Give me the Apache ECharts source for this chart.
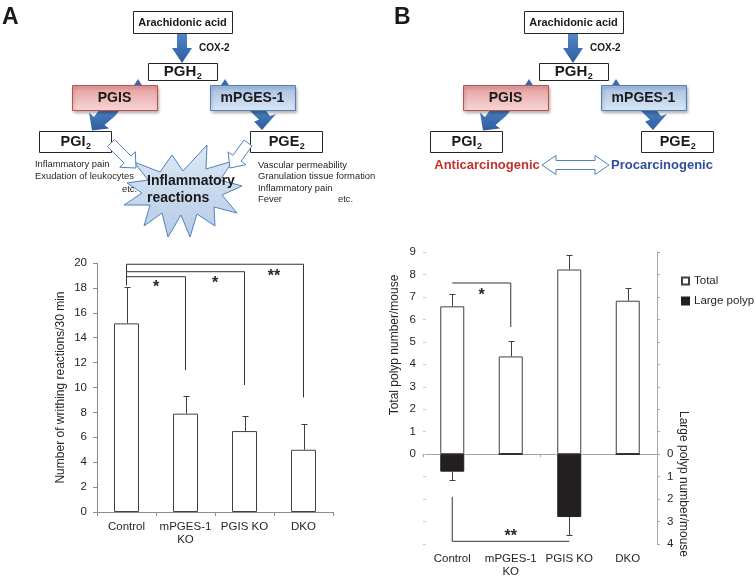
<!DOCTYPE html>
<html><head><meta charset="utf-8">
<script src="https://cdn.jsdelivr.net/npm/echarts@6/dist/echarts.min.js"></script>
<style>html,body{margin:0;padding:0;background:#fff}#c{width:756px;height:580px}</style>
</head><body><div id="c"></div>
<script>
// ---------- data ----------
const categories = ['Control', 'mPGES-1\nKO', 'PGIS KO', 'DKO'];
// Panel A: writhing reactions
const writhingMean = [15.15, 7.9, 6.5, 5.0];
const writhingErr = [2.95, 1.4, 1.25, 2.05];
const yTicksA = [0, 2, 4, 6, 8, 10, 12, 14, 16, 18, 20];
// Panel B: polyps
const totalPolyp = [6.58, 4.35, 8.22, 6.83];
const totalPolypErr = [0.54, 0.67, 0.66, 0.58];
const largePolyp = [0.78, 0, 2.8, 0];
const largePolypErr = [0.35, 0, 0.8, 0];
const yTicksBLeft = [0, 1, 2, 3, 4, 5, 6, 7, 8, 9];
const yTicksBRight = [0, 1, 2, 3, 4];
const legendNames = ['Total', 'Large polyp'];
// significance brackets [category index, value]
const bracketsA = [
  [[0, 18.2], [0, 19.9], [3, 19.9], [3, 9.2]],
  [[0, 19.3], [2, 19.3], [2, 10.2]],
  [[0, 18.9], [1, 18.9], [1, 11.4]]
];
const starsA = [[0, 1, 18.0], [1, 2, 18.35], [2, 3, 18.9]];
const starTextsA = ['*', '*', '**'];
const bracketBTotal = [[0, 7.62], [1, 7.62], [1, 5.66]];
const starsBTotal = [[0, 1, 7.04]];
const starTextsBTotal = ['*'];
const bracketBLarge = [[0, 1.9], [0, 3.88], [2, 3.88]];
const starsBLarge = [[1, 1, 3.69]];
const starTextsBLarge = ['**'];

// ---------- helpers ----------
const FONT = '"Liberation Sans", Arial, sans-serif';
const INK = '#262626';
function F(size, bold) { return (bold ? 'bold ' : '') + size + 'px ' + FONT; }
const mctx = document.createElement('canvas').getContext('2d');
function tw(t, font) { mctx.font = font; return mctx.measureText(t).width; }

const G = [];
function rect(x, y, w, h, fill, stroke, extra) {
  G.push({ type: 'rect', silent: true, shape: { x: x + 0.5, y: y + 0.5, width: w, height: h },
    style: Object.assign({ fill: fill, stroke: stroke, lineWidth: 1 }, extra || {}) });
}
function text(x, y, t, font, color, align, valign, rot) {
  G.push({ type: 'text', silent: true, x: x, y: y, rotation: rot || 0, z: 10,
    style: { text: t, font: font, fill: color || INK, textAlign: align || 'left', textVerticalAlign: valign || 'middle' } });
}
function poly(points, fill, stroke, extra) {
  G.push({ type: 'polygon', silent: true, shape: { points: points },
    style: Object.assign({ fill: fill, stroke: stroke || null, lineWidth: 1 }, extra || {}) });
}
function subText(cx, cy, main, sub, fs) {
  const fm = F(fs, true), fsb = F(Math.round(fs * 0.62), true);
  const w1 = tw(main, fm), w2 = tw(sub, fsb);
  const x0 = cx - (w1 + w2) / 2;
  text(x0, cy, main, fm, '#1a1a1a', 'left');
  text(x0 + w1 + 0.5, cy + fs * 0.32, sub, fsb, '#1a1a1a', 'left');
}
function blockArrow(x1, y1, x2, y2, sw, hw, hl) {
  const dx = x2 - x1, dy = y2 - y1, L = Math.hypot(dx, dy), ux = dx / L, uy = dy / L, px = -uy, py = ux;
  const bx = x2 - ux * hl, by = y2 - uy * hl;
  return [[x1 + px * sw / 2, y1 + py * sw / 2], [bx + px * sw / 2, by + py * sw / 2], [bx + px * hw / 2, by + py * hw / 2],
    [x2, y2], [bx - px * hw / 2, by - py * hw / 2], [bx - px * sw / 2, by - py * sw / 2], [x1 - px * sw / 2, y1 - py * sw / 2]];
}
function doubleArrow(x1, x2, y, sw, hw, hl) {
  return [[x1, y], [x1 + hl, y - hw / 2], [x1 + hl, y - sw / 2], [x2 - hl, y - sw / 2], [x2 - hl, y - hw / 2], [x2, y],
    [x2 - hl, y + hw / 2], [x2 - hl, y + sw / 2], [x1 + hl, y + sw / 2], [x1 + hl, y + hw / 2]];
}
function shift(pts, dx) { return pts.map(p => [p[0] + dx, p[1]]); }
const lg = (a, b) => new echarts.graphic.LinearGradient(0, 0, 0, 1, [{ offset: 0, color: a }, { offset: 1, color: b }]);
const blueArrow = () => lg('#5187c7', '#2d5d9d');
const shadow = { shadowBlur: 3, shadowOffsetX: 1, shadowOffsetY: 2, shadowColor: 'rgba(0,0,0,0.3)' };

function drawTop(dx) {
  rect(dx + 133, 11, 99, 22, '#fff', '#262626');
  text(dx + 182.5, 22.5, 'Arachidonic acid', F(11, true), '#1a1a1a', 'center');
  poly(blockArrow(dx + 182, 34, dx + 182, 63, 10, 20, 15), blueArrow());
  text(dx + 199, 48, 'COX-2', F(10, true), '#1a1a1a', 'left');
  rect(dx + 148, 63, 69, 17, '#fff', '#262626');
  subText(dx + 182.5, 72, 'PGH', '2', 15);
  // small arrow tips peeking above enzyme boxes
  poly(shift([[138, 79], [133.5, 86], [142.5, 86]], dx), '#3a6aa9');
  poly(shift([[225, 79], [220.5, 86], [229.5, 86]], dx), '#3a6aa9');
  // curved arrows to products
  poly(shift([[102, 106], [123, 106], [115, 116], [104.5, 125], [109, 128.5], [92, 130.5], [89, 112.5], [94, 117]], dx), blueArrow());
  poly(shift([[245, 106], [262, 106], [270, 116], [276, 114], [262, 130], [254, 121.5], [259, 119.7]], dx), blueArrow());
  rect(dx + 72, 85, 85, 25, lg('#e59c9b', '#f7d7d6'), '#c0504d', shadow);
  text(dx + 114.5, 98, 'PGIS', F(14, true), '#1a1a1a', 'center');
  rect(dx + 210, 85, 85, 25, lg('#a3bde2', '#dce7f5'), '#4f81bd', shadow);
  text(dx + 252.5, 98, 'mPGES-1', F(14, true), '#1a1a1a', 'center');
  rect(dx + 39, 131, 72, 21, '#fff', '#262626');
  subText(dx + 75.5, 141.5, 'PGI', '2', 14.5);
  rect(dx + 250, 131, 72, 21, '#fff', '#262626');
  subText(dx + 286.5, 141.5, 'PGE', '2', 14.5);
}

// Panel labels
text(2, 18, 'A', F(23, true), '#1a1a1a', 'left');
text(394, 18, 'B', F(23, true), '#1a1a1a', 'left');
drawTop(0);
drawTop(391);

// Panel A: inflammatory reactions burst
poly([[172, 155], [183, 171], [207, 145], [206, 169], [233, 161], [220, 180], [242, 186], [222, 195], [237, 213], [214, 207],
  [215, 226], [197, 214], [190, 237], [181, 215], [168, 237], [162, 213], [144, 226], [150, 205], [124, 205], [142, 193],
  [127, 183], [148, 180], [134, 162], [160, 172]], lg('#dde8f5', '#b6cbe6'), '#4f81bd');
poly(blockArrow(111, 143, 136, 168, 10, 22, 12), '#fff', '#4f81bd');
poly(blockArrow(248, 143, 230, 168, 10, 22, 12), '#fff', '#4f81bd');
text(147, 181, 'Inflammatory', F(14, true), '#1a1a1a', 'left');
text(147, 198, 'reactions', F(14, true), '#1a1a1a', 'left');
const small = F(9.4, false);
text(35, 164, 'Inflammatory pain', small, INK);
text(35, 176, 'Exudation of leukocytes', small, INK);
text(122, 189, 'etc.', small, INK);
text(258, 165, 'Vascular permeability', small, INK);
text(258, 176.5, 'Granulation tissue formation', small, INK);
text(258, 188, 'Inflammatory pain', small, INK);
text(258, 199.5, 'Fever', small, INK);
text(338, 199.5, 'etc.', small, INK);

// Panel B: carcinogenic labels
text(487, 165, 'Anticarcinogenic', F(13, true), '#c3302e', 'center');
text(662, 165, 'Procarcinogenic', F(13, true), '#2f4f9c', 'center');
poly(doubleArrow(542, 609, 165, 9, 19, 14), '#fff', '#4f81bd');

// B axis names
text(395, 345, 'Total polyp number/mouse', F(12, false), INK, 'center', 'middle', Math.PI / 2);
text(683, 484, 'Large polyp number/mouse', F(12, false), INK, 'center', 'middle', -Math.PI / 2);

// ---------- series renderers ----------
function errRender(params, api) {
  const i = api.value(0), v = api.value(1), e = api.value(2);
  if (!(e > 0)) return null;
  const p0 = api.coord([i, v]), p1 = api.coord([i, v + e]);
  const x = Math.round(p0[0]) + 0.5, y1 = Math.round(p1[1]) + 0.5;
  return { type: 'group', children: [
    { type: 'line', shape: { x1: x, y1: p0[1], x2: x, y2: y1 }, style: { stroke: '#404040', lineWidth: 1 } },
    { type: 'line', shape: { x1: x - 3, y1: y1, x2: x + 3, y2: y1 }, style: { stroke: '#404040', lineWidth: 1 } }
  ] };
}
function starRender(texts) {
  return function (params, api) {
    const a = api.coord([api.value(0), api.value(2)]), b = api.coord([api.value(1), api.value(2)]);
    return { type: 'text', x: (a[0] + b[0]) / 2, y: a[1],
      style: { text: texts[params.dataIndex], font: F(16, true), fill: INK, textAlign: 'center', textVerticalAlign: 'middle' } };
  };
}
function bracket(data, xi, yi) {
  return { type: 'line', xAxisIndex: xi, yAxisIndex: yi, data: data, symbol: 'none', silent: true, z: 4,
    lineStyle: { color: '#333', width: 1 }, clip: false };
}
function stars(data, texts, xi, yi) {
  return { type: 'custom', xAxisIndex: xi, yAxisIndex: yi, data: data, renderItem: starRender(texts),
    encode: { x: [0, 1], y: 2 }, silent: true, z: 5, clip: false };
}
function errSeries(mean, err, xi, yi) {
  return { type: 'custom', xAxisIndex: xi, yAxisIndex: yi, renderItem: errRender, silent: true, z: 3,
    data: mean.map((v, i) => [i, v, err[i]]), encode: { x: 0, y: 1 }, clip: false };
}
const labelStyle = { fontSize: 11.5, color: INK, fontFamily: FONT };
const span = a => ({ min: a[0], max: a[a.length - 1], interval: a[1] - a[0] });

const option = {
  animation: false,
  textStyle: { fontFamily: FONT },
  graphic: G,
  grid: [
    { left: 97, top: 263, width: 236, height: 249 },
    { left: 423, top: 252, width: 234, height: 292 }
  ],
  legend: {
    data: legendNames, orient: 'vertical', left: 681, top: 275, padding: 0, icon: 'rect', itemWidth: 7, itemHeight: 7, itemGap: 8,
    textStyle: { fontSize: 11.5, color: INK, fontFamily: FONT }, selectedMode: false
  },
  xAxis: [
    { gridIndex: 0, type: 'category', data: categories, position: 'bottom',
      axisLine: { lineStyle: { color: '#8c8c8c' } }, axisTick: { show: true, length: 4, lineStyle: { color: '#8c8c8c' } },
      axisLabel: Object.assign({ interval: 0, margin: 9, lineHeight: 12.5 }, labelStyle), splitLine: { show: false } },
    { gridIndex: 1, type: 'category', data: categories, position: 'bottom',
      axisLine: { onZero: true, lineStyle: { color: '#a6a6a6' } }, axisTick: { show: true, length: 3, lineStyle: { color: '#a6a6a6' } },
      axisLabel: { show: false }, splitLine: { show: false } },
    { gridIndex: 1, type: 'category', data: categories, position: 'bottom',
      axisLine: { show: false, onZero: false }, axisTick: { show: false },
      axisLabel: Object.assign({ interval: 0, margin: 8, lineHeight: 13 }, labelStyle), splitLine: { show: false } }
  ],
  yAxis: [
    Object.assign({ gridIndex: 0, type: 'value',
      axisLine: { show: true, lineStyle: { color: '#8c8c8c' } }, axisTick: { show: true, length: 4, lineStyle: { color: '#8c8c8c' } },
      splitLine: { show: false }, axisLabel: Object.assign({ margin: 10 }, labelStyle),
      name: 'Number of writhing reactions/30 min', nameLocation: 'middle', nameGap: 30,
      nameTextStyle: { fontSize: 12, color: INK, fontFamily: FONT } }, span(yTicksA)),
    { gridIndex: 1, type: 'value', position: 'left',
      min: -yTicksBRight[yTicksBRight.length - 1], max: yTicksBLeft[yTicksBLeft.length - 1], interval: yTicksBLeft[1] - yTicksBLeft[0],
      axisLine: { show: false }, axisTick: { show: true, inside: true, length: 3, lineStyle: { color: '#c8c8c8' } },
      splitLine: { show: false }, axisLabel: Object.assign({ margin: 7, customValues: yTicksBLeft }, labelStyle) },
    { gridIndex: 1, type: 'value', position: 'right', inverse: true,
      min: -yTicksBLeft[yTicksBLeft.length - 1], max: yTicksBRight[yTicksBRight.length - 1], interval: yTicksBRight[1] - yTicksBRight[0],
      axisLine: { show: true, lineStyle: { color: '#a6a6a6' } }, axisTick: { show: true, length: 3, lineStyle: { color: '#a6a6a6' } },
      splitLine: { show: false }, axisLabel: Object.assign({ margin: 10, customValues: yTicksBRight }, labelStyle) }
  ],
  series: [
    { type: 'bar', xAxisIndex: 0, yAxisIndex: 0, data: writhingMean, barWidth: 25, silent: true,
      itemStyle: { color: '#fff', borderColor: '#404040', borderWidth: 1 } },
    errSeries(writhingMean, writhingErr, 0, 0),
    ...bracketsA.map(b => bracket(b, 0, 0)),
    stars(starsA, starTextsA, 0, 0),
    { name: legendNames[0], type: 'bar', xAxisIndex: 1, yAxisIndex: 1, data: totalPolyp, barWidth: 24, barGap: '-100%', silent: true,
      itemStyle: { color: '#fff', borderColor: '#404040', borderWidth: 1 } },
    { name: legendNames[1], type: 'bar', xAxisIndex: 1, yAxisIndex: 2, data: largePolyp, barWidth: 24, barGap: '-100%', silent: true,
      itemStyle: { color: '#231f20', borderColor: '#231f20', borderWidth: 1 } },
    errSeries(totalPolyp, totalPolypErr, 1, 1),
    errSeries(largePolyp, largePolypErr, 1, 2),
    bracket(bracketBTotal, 1, 1),
    bracket(bracketBLarge, 1, 2),
    stars(starsBTotal, starTextsBTotal, 1, 1),
    stars(starsBLarge, starTextsBLarge, 1, 2)
  ]
};
const chart = echarts.init(document.getElementById('c'), null, { renderer: 'canvas' });
chart.setOption(option);
</script>
</body></html>
